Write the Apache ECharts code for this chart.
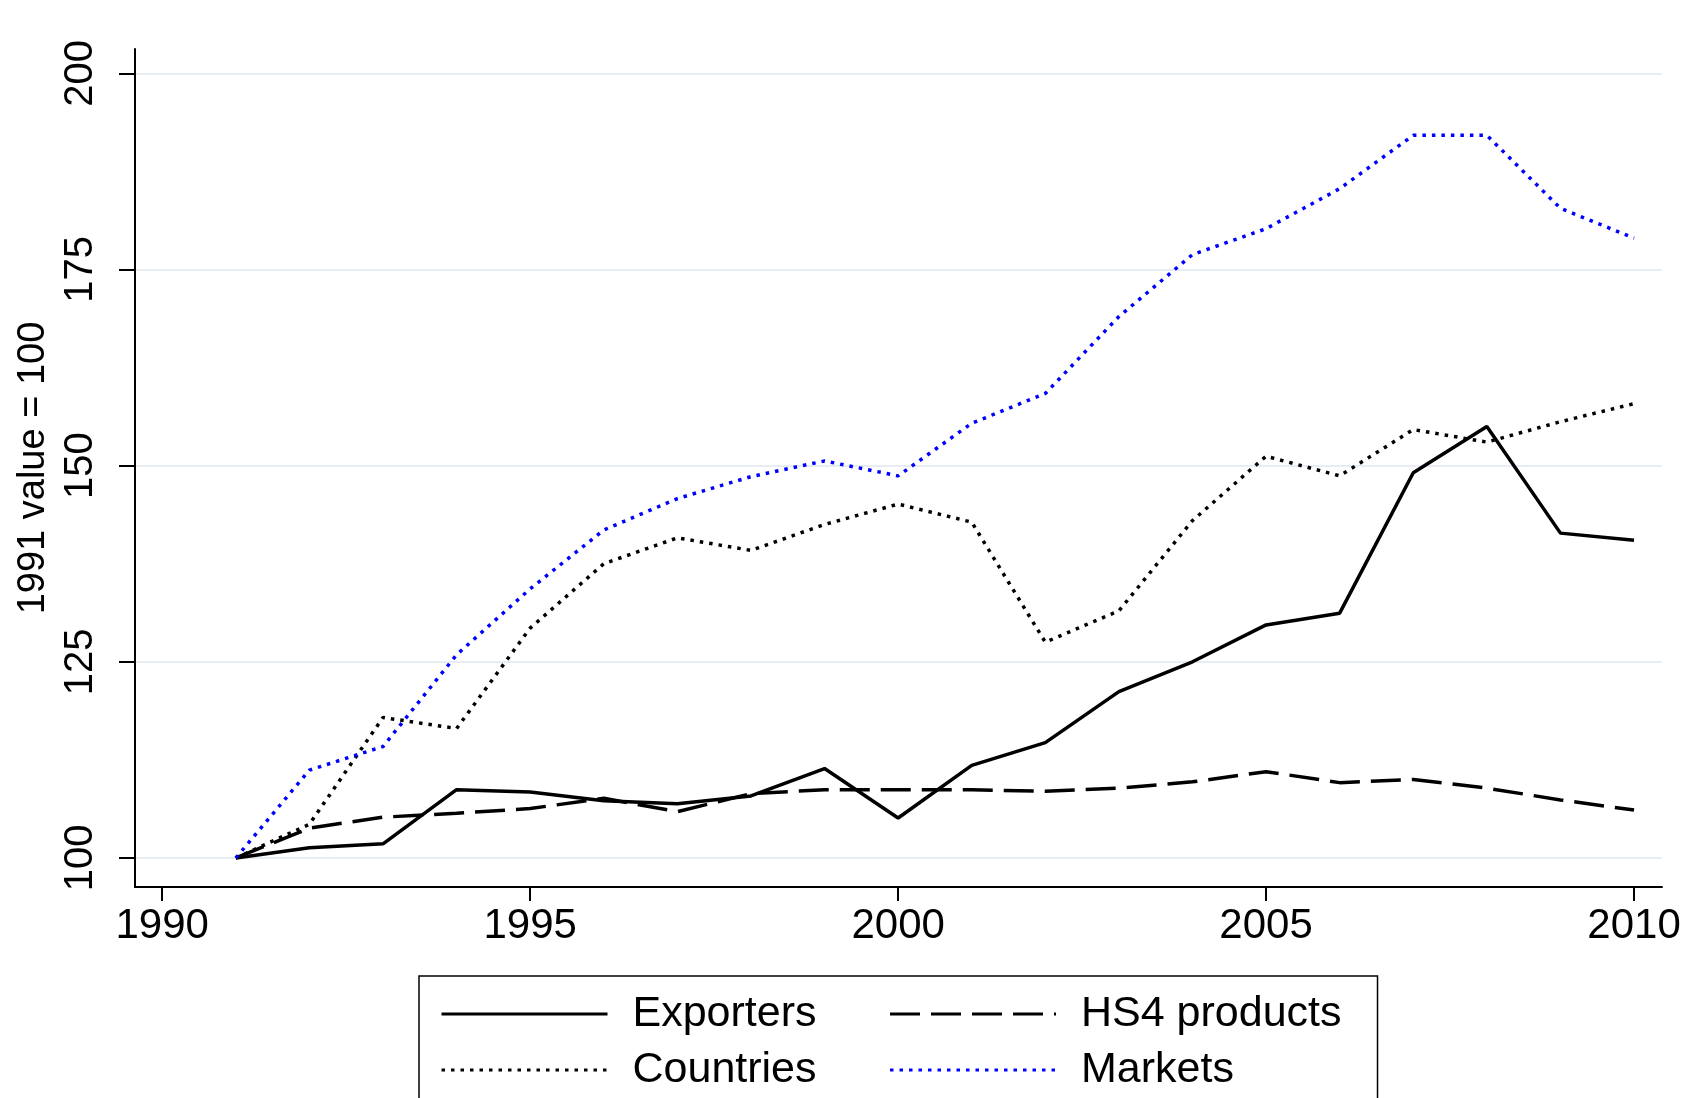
<!DOCTYPE html>
<html>
<head>
<meta charset="utf-8">
<script src="https://cdn.jsdelivr.net/npm/echarts@6/dist/echarts.min.js"></script>
<style>
  html, body { margin: 0; padding: 0; background: #fff; }
  #chart { width: 1692px; height: 1098px; }
</style>
</head>
<body>
<div id="chart"></div>
<script>
// values, 1991 = 100
const years = [1991, 1992, 1993, 1994, 1995, 1996, 1997, 1998, 1999, 2000,
               2001, 2002, 2003, 2004, 2005, 2006, 2007, 2008, 2009, 2010];
const exporters = [100, 101.3, 101.8, 108.7, 108.4, 107.3, 106.9, 107.9, 111.4, 105.1,
                   111.8, 114.7, 121.2, 125.0, 129.7, 131.2, 149.1, 155.0, 141.4, 140.5];
const hs4Products = [100, 103.8, 105.2, 105.7, 106.3, 107.6, 105.9, 108.2, 108.7, 108.7,
                     108.7, 108.5, 108.9, 109.7, 111.0, 109.6, 110.0, 108.9, 107.4, 106.1];
const countries = [100, 104.3, 117.9, 116.5, 129.3, 137.5, 140.8, 139.2, 142.5, 145.1,
                   142.8, 127.5, 131.5, 143.0, 151.2, 148.7, 154.6, 153.0, 155.6, 157.9];
const markets = [100, 111.2, 114.2, 125.9, 134.3, 141.8, 145.8, 148.6, 150.6, 148.7,
                 155.4, 159.2, 169.0, 176.9, 180.2, 185.3, 192.1, 192.1, 182.8, 179.0];

const xTicks = [1990, 1995, 2000, 2005, 2010];
const yTicks = [100, 125, 150, 175, 200];

const FONT = "'Liberation Sans', Arial, sans-serif";

const pairs = vals => years.map((y, i) => [y, vals[i]]);

const chart = echarts.init(document.getElementById('chart'));

const lineSeries = (name, vals, color, type) => ({
  name: name,
  type: 'line',
  symbol: 'none',
  animation: false,
  lineStyle: { color: color, width: 3.5, type: type },
  itemStyle: { color: color },
  data: pairs(vals)
});

const option = {
  backgroundColor: '#fff',
  textStyle: { fontFamily: FONT },
  grid: { left: 135, right: 30, top: 49, bottom: 211 },
  xAxis: {
    type: 'value',
    min: 1989.63,
    max: 2010.38,
    axisLine: { show: true, lineStyle: { color: '#000', width: 2 } },
    axisTick: { show: true, customValues: xTicks, length: 14, lineStyle: { color: '#000', width: 2 } },
    axisLabel: {
      customValues: xTicks, color: '#000', fontSize: 42, margin: 18, fontFamily: FONT,
      formatter: v => String(v)
    },
    splitLine: { show: false }
  },
  yAxis: {
    type: 'value',
    min: 96.3,
    max: 203.1,
    name: '1991 value = 100',
    nameLocation: 'middle',
    nameGap: 82,
    nameTextStyle: { color: '#000', fontSize: 38, fontFamily: FONT },
    axisLine: { show: true, lineStyle: { color: '#000', width: 2 } },
    axisTick: { show: true, customValues: yTicks, length: 16, lineStyle: { color: '#000', width: 2 } },
    axisLabel: { customValues: yTicks, rotate: 90, color: '#000', fontSize: 40, margin: 34, fontFamily: FONT },
    splitLine: { show: true, lineStyle: { color: '#e8edf4', width: 2 } }
  },
  legend: {
    left: 419,
    top: 976,
    width: 920,
    orient: 'horizontal',
    data: ['Exporters', 'HS4 products', 'Countries', 'Markets'],
    itemWidth: 166,
    itemHeight: 20,
    itemGap: 10,
    padding: [15, 36, 20, 21],
    borderColor: '#000',
    borderWidth: 1.5,
    itemStyle: { opacity: 0 },
    lineStyle: { width: 3 },
    textStyle: { color: '#000', fontSize: 43, fontFamily: FONT, width: 246, lineHeight: 46, padding: [0, 0, 0, 20] }
  },
  series: [
    lineSeries('Exporters', exporters, '#000', 'solid'),
    lineSeries('HS4 products', hs4Products, '#000', [30, 11]),
    lineSeries('Countries', countries, '#000', [3.5, 6]),
    lineSeries('Markets', markets, '#0000ff', [3.5, 6])
  ]
};

chart.setOption(option);
</script>
</body>
</html>
